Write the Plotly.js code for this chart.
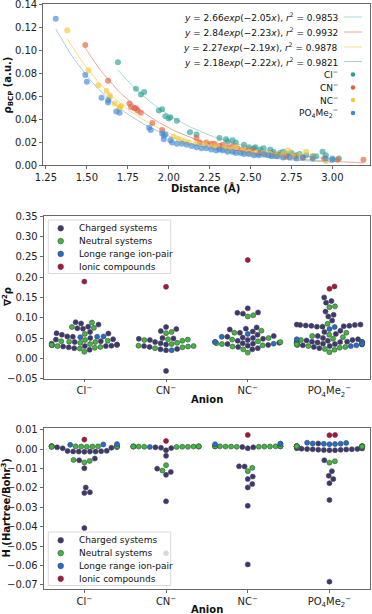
<!DOCTYPE html>
<html>
<head>
<meta charset="utf-8">
<script src="https://cdn.plot.ly/plotly-3.0.1.min.js"></script>
<style>
  html, body { margin: 0; padding: 0; background: #fff; }
  #chart { width: 372px; height: 614px; }
</style>
</head>
<body>
<div id="chart"></div>
<script>
// ---- panel 1: rho at the BCP vs distance ----
const distCl = [1.69,1.80,1.83,1.85,1.94,1.96,1.98,2.00,2.01,2.05,2.13,2.17,2.31,2.35,2.36,2.39,2.41,2.46,2.49,2.52,2.53,2.56,2.58,2.62,2.64,2.68,2.70,2.72,2.75,2.78,2.80,2.84,2.88,2.90,2.94,2.96,3.00,3.04];
const rhoCl  = [0.090,0.067,0.062,0.064,0.048,0.049,0.043,0.041,0.042,0.039,0.029,0.027,0.024,0.023,0.021,0.022,0.020,0.018,0.016,0.015,0.016,0.014,0.015,0.014,0.012,0.011,0.012,0.010,0.011,0.009,0.010,0.009,0.008,0.008,0.012,0.009,0.006,0.006];
const distCN = [1.49,1.63,1.76,1.77,1.79,1.80,1.81,1.83,1.90,1.96,2.17,2.19,2.23,2.26,2.28,2.31,2.33,2.36,2.39,2.42,2.45,2.48,2.51,2.55,2.59,2.63,2.67,2.72,2.77,2.82,2.88,2.95,3.03,3.19];
const rhoCN  = [0.105,0.074,0.054,0.051,0.050,0.050,0.048,0.046,0.037,0.031,0.024,0.020,0.020,0.019,0.019,0.017,0.018,0.016,0.017,0.015,0.014,0.013,0.013,0.011,0.010,0.010,0.009,0.008,0.008,0.007,0.007,0.006,0.005,0.005];
const distNC = [1.38,1.51,1.57,1.62,1.64,1.64,1.67,1.70,1.70,1.71,2.03,2.06,2.09,2.12,2.17,2.22,2.27,2.30,2.34,2.38,2.41,2.45,2.49,2.53,2.58,2.62,2.66,2.70,2.73,2.76,2.80,2.84,2.88,2.96];
const rhoNC  = [0.118,0.083,0.070,0.065,0.061,0.059,0.054,0.051,0.050,0.052,0.025,0.023,0.021,0.020,0.019,0.018,0.017,0.016,0.015,0.014,0.016,0.013,0.012,0.011,0.011,0.010,0.009,0.010,0.013,0.008,0.009,0.012,0.007,0.004];
const distPO = [1.31,1.49,1.50,1.59,1.63,1.63,1.68,1.70,1.88,1.89,1.96,1.97,1.97,1.98,2.01,2.02,2.05,2.08,2.11,2.14,2.17,2.20,2.23,2.26,2.29,2.31,2.33,2.36,2.39,2.41,2.44,2.46,2.49,2.52,2.55,2.58,2.61,2.63,2.66,2.70,2.74,2.78,2.82,2.88,2.96,3.00];
const rhoPO  = [0.128,0.079,0.073,0.059,0.057,0.055,0.047,0.046,0.033,0.031,0.028,0.026,0.023,0.027,0.022,0.020,0.019,0.019,0.018,0.017,0.016,0.015,0.015,0.014,0.013,0.014,0.013,0.012,0.012,0.011,0.011,0.010,0.010,0.009,0.009,0.010,0.009,0.008,0.008,0.007,0.007,0.006,0.007,0.006,0.006,0.005];

// fitted y = a*exp(b*x), as printed in the legend
const fitA = [2.66, 2.84, 2.27, 2.18];
const fitB = [-2.05, -2.23, -2.19, -2.22];
const fitR2 = ["0.9853", "0.9932", "0.9878", "0.9821"];

const anionNames = ["Cl<sup>−</sup>", "CN<sup>−</sup>", "NC<sup>−</sup>", "PO<sub>4</sub>Me<sub>2</sub><sup>−</sup>"];

// ---- panel 2: laplacian per anion, by system type (Cl, CN, NC, PO4Me2) ----
const lapCharged = [
  [0.089,0.086,0.083,0.078,0.074,0.073,0.065,0.062,0.061,0.058,0.054,0.053,0.050,0.047,0.046,0.042,0.040,0.036,0.034,0.033,0.032,0.031,0.030,0.030,0.029,0.027,0.025,0.021],
  [0.077,0.072,0.067,0.050,0.049,0.048,0.045,0.040,0.037,0.034,0.030,0.028,0.023,0.022,0.020,-0.031],
  [0.123,0.113,0.112,0.110,0.076,0.073,0.071,0.066,0.063,0.058,0.055,0.053,0.051,0.050,0.048,0.045,0.043,0.040,0.038,0.037,0.036,0.035,0.033,0.031,0.028,0.025,0.022],
  [0.150,0.141,0.137,0.115,0.107,0.103,0.093,0.083,0.083,0.082,0.082,0.081,0.080,0.080,0.079,0.078,0.078,0.068,0.065,0.060,0.055,0.050,0.047,0.045,0.044,0.043,0.042,0.041,0.041,0.040,0.040,0.039,0.038,0.037,0.036,0.035,0.034,0.033,0.032,0.030,0.028,0.025]
];
const lapNeutral = [
  [0.088,0.077,0.075,0.060,0.045,0.043,0.042,0.041,0.040,0.038,0.035,0.033,0.030,0.028,0.026,0.024,0.016],
  [0.065,0.062,0.047,0.046,0.045,0.043,0.038,0.035,0.031,0.030,0.029,0.027,0.025],
  [0.106,0.103,0.068,0.063,0.050,0.046,0.042,0.040,0.037,0.035,0.032,0.029,0.022,0.014],
  [0.128,0.126,0.085,0.063,0.058,0.055,0.052,0.048,0.045,0.040,0.036,0.034,0.030,0.028,0.026,0.023,0.021,0.015]
];
const lapLongRange = [
  [0.054,0.053,0.052],
  [0.020],
  [0.060,0.053,0.040,0.036],
  [0.077,0.072,0.047,0.040,0.035,0.032,0.030]
];
const lapIonic = [[0.189], [0.176], [0.242], [0.177,0.171]];

// ---- panel 3: energy density H per anion, by system type ----
const hCharged = [
  [0.0012,0.0010,0.0008,0.0005,-0.0008,-0.0010,-0.0012,-0.0012,-0.0013,-0.0012,-0.0011,-0.0009,-0.0048,-0.0057,-0.0098,-0.0198,-0.0222,-0.0226,-0.0407],
  [0.0010,0.0008,0.0006,-0.0005,-0.0034,-0.0100,-0.0117,-0.0132,-0.0269,-0.0537],
  [0.0012,0.0010,0.0005,-0.0088,-0.0089,-0.0141,-0.0154,-0.0180,-0.0197,-0.0292,-0.0595],
  [0.0030,0.0005,0.0004,0.0003,0.0002,0.0001,0.0000,0.0000,-0.0001,-0.0002,-0.0003,-0.0004,-0.0005,-0.0005,-0.0057,-0.0113,-0.0137,-0.0154,-0.0175,-0.0262,-0.0684]
];
const hNeutral = [
  [0.0016,0.0015,0.0014,0.0016,0.0015,0.0013,0.0014,0.0015,0.0016,0.0014,0.0015,0.0013,0.0012,0.0015,-0.0055,-0.0068,-0.0060],
  [0.0014,0.0015,0.0013,0.0014,0.0015,0.0014,0.0013,0.0014,0.0015,0.0013,0.0014,0.0012,-0.0082,-0.0110],
  [0.0016,0.0015,0.0014,0.0015,0.0016,0.0014,0.0015,0.0013,0.0015,0.0014,0.0016,0.0015,0.0013,0.0014,-0.0096,-0.0113],
  [0.0016,0.0015,0.0014,0.0016,0.0015,0.0013,0.0014,0.0015,0.0016,0.0014,0.0015,0.0013,0.0012,0.0015,0.0014,0.0016,-0.0062,-0.0069]
];
const hLongRange = [
  [0.0025,0.0027,0.0023],
  [0.0012],
  [0.0029,0.0026,0.0028],
  [0.0034,0.0030,0.0028,0.0026,0.0027,0.0029,0.0033]
];
const hIonic = [[0.0050], [0.0043], [0.0074], [0.0074,0.0073]];

const hueNames = ["Charged systems", "Neutral systems", "Longe range ion-pair", "Ionic compounds"];
const hueColors = ["#3c3878", "#3dba3d", "#1f6fd0", "#b0123a"];

const FONT = "DejaVu Sans, sans-serif";
const W = 372, H = 614;
const px = (x) => x / W;
const py = (y) => 1 - y / H;

// plot frames in page pixels
const f1 = { l: 43, r: 370, t: 3.5, b: 165.5 };
const f2 = { l: 43.5, r: 370.3, t: 216.2, b: 378.6 };
const f3 = { l: 43.5, r: 370.3, t: 427.6, b: 589 };
const range2 = [-0.05, 0.35];
const range3 = [-0.0722, 0.0112];

const axisBase = {
  showline: true, mirror: true, linecolor: "#444", linewidth: 0.8,
  ticks: "outside", ticklen: 3, tickwidth: 0.8, tickcolor: "#444",
  showgrid: false, zeroline: false, ticklabeloverflow: "allow",
  tickfont: { family: FONT, size: 10, color: "#222" }
};

// ---- scatter + fits ----
const scatterSets = [
  { x: distCl, y: rhoCl, name: "Cl", color: "#2e9f96", line: "#a9d8d4" },
  { x: distCN, y: rhoCN, name: "CN", color: "#e35f3c", line: "#f0a694" },
  { x: distNC, y: rhoNC, name: "NC", color: "#f5c73a", line: "#f8dd80" },
  { x: distPO, y: rhoPO, name: "PO4Me2", color: "#3f8ad8", line: "#abcbe6" }
];

const traces = [];
scatterSets.forEach((s, i) => {
  const lo = Math.min(...s.x), hi = Math.max(...s.x);
  const xs = [], ys = [];
  for (let k = 0; k <= 60; k++) {
    const x = lo + (hi - lo) * k / 60;
    xs.push(x);
    ys.push(fitA[i] * Math.exp(fitB[i] * x));
  }
  traces.push({
    x: xs, y: ys, xaxis: "x", yaxis: "y", type: "scatter", mode: "lines",
    line: { color: s.line, width: 1 }, showlegend: false, hoverinfo: "skip"
  });
});
scatterSets.forEach((s) => {
  traces.push({
    x: s.x, y: s.y, xaxis: "x", yaxis: "y", type: "scatter", mode: "markers",
    marker: { color: s.color, size: 6, opacity: 0.65 }, showlegend: false, name: s.name
  });
});

// ---- simple beeswarm, like seaborn: sort by value, place nearest to centre ----
function swarmOffsets(vals, pxPerUnit, diam) {
  const order = vals.map((v, i) => i).sort((a, b) => vals[a] - vals[b]);
  const placed = [];
  const off = new Array(vals.length);
  for (const i of order) {
    const y = vals[i] * pxPerUnit;
    const near = placed.filter((p) => Math.abs(p.y - y) < diam);
    const cands = [0];
    near.forEach((p) => {
      const dx = Math.sqrt(diam * diam - (p.y - y) ** 2);
      cands.push(p.x + dx, p.x - dx);
    });
    cands.sort((a, b) => Math.abs(a) - Math.abs(b));
    let x = cands[cands.length - 1];
    for (const c of cands) {
      if (near.every((p) => (p.x - c) ** 2 + (p.y - y) ** 2 >= diam * diam - 1e-6)) { x = c; break; }
    }
    placed.push({ x, y });
    off[i] = x;
  }
  return off;
}

function swarmTraces(groups, frame, yrange, xa, ya) {
  const pxPerCat = (frame.r - frame.l) / 4;
  const pxPerUnit = (frame.b - frame.t) / (yrange[1] - yrange[0]);
  const diam = 5.6, maxOff = 0.4 * pxPerCat;
  const out = hueNames.map((n, h) => ({
    x: [], y: [], xaxis: xa, yaxis: ya, type: "scatter", mode: "markers", name: n,
    marker: { color: hueColors[h], size: 5, line: { color: "#444", width: 0.6 } },
    showlegend: false
  }));
  for (let k = 0; k < 4; k++) {
    const vals = [], hue = [];
    groups.forEach((g, h) => g[k].forEach((v) => { vals.push(v); hue.push(h); }));
    const off = swarmOffsets(vals, pxPerUnit, diam);
    vals.forEach((v, i) => {
      const o = Math.max(-maxOff, Math.min(maxOff, off[i]));
      out[hue[i]].x.push(k + o / pxPerCat);
      out[hue[i]].y.push(v);
    });
  }
  return out;
}

traces.push(...swarmTraces([lapCharged, lapNeutral, lapLongRange, lapIonic], f2, range2, "x2", "y2"));
traces.push(...swarmTraces([hCharged, hNeutral, hLongRange, hIonic], f3, range3, "x3", "y3"));

// ---- annotations & legend drawings ----
const annotations = [];
const shapes = [];
function label(text, x, y, opts = {}) {
  annotations.push(Object.assign({
    text, x: px(x), y: py(y), xref: "paper", yref: "paper", showarrow: false,
    xanchor: "center", yanchor: "middle",
    font: { family: FONT, size: 10, color: "#111" }
  }, opts));
}
function dot(x, y, color, d, edge) {
  shapes.push({
    type: "circle", xref: "paper", yref: "paper", xsizemode: "pixel", ysizemode: "pixel",
    xanchor: px(x), yanchor: py(y), x0: -d / 2, x1: d / 2, y0: -d / 2, y1: d / 2,
    fillcolor: color, line: { color: edge || color, width: edge ? 0.6 : 0 }, layer: "above"
  });
}

// axis titles
label("<b>Distance (Å)</b>", 206, 188);
label("<b>ρ<sub>BCP</sub> (a.u.)</b>", 7.5, 85, { textangle: -90 });
label("<b>∇<sup>2</sup>ρ</b>", 7, 297, { textangle: -90 });
label("<b>Anion</b>", 207, 399);
label("<b>H (Hartree/Bohr<sup>3</sup>)</b>", 5.5, 508, { textangle: -90 });
label("<b>Anion</b>", 207, 609);

// panel 1 legend: text on the left, symbol on the right
const legFont = { family: FONT, size: 9, color: "#111" };
const rows1 = [17, 32, 47, 61.5, 74.5, 87.5, 100, 113];
scatterSets.forEach((s, i) => {
  label(`<i>y</i> = ${fitA[i].toFixed(2)}<i>exp</i>(−${(-fitB[i]).toFixed(2)}<i>x</i>), <i>r</i><sup>2</sup> = ${fitR2[i]}`,
    340, rows1[i], { xanchor: "right", font: legFont });
  shapes.push({
    type: "line", xref: "paper", yref: "paper", x0: px(344), x1: px(362), y0: py(rows1[i]), y1: py(rows1[i]),
    line: { color: s.line, width: 1 }
  });
  label(anionNames[i], 340, rows1[4 + i], { xanchor: "right", font: legFont });
  dot(353, rows1[4 + i], s.color, 4.5);
});

// boxed legends for the swarm panels
function boxLegend(top) {
  shapes.push({
    type: "rect", xref: "paper", yref: "paper", x0: px(48.3), x1: px(170.7), y0: py(top), y1: py(top + 53.5),
    fillcolor: "rgba(255,255,255,0.8)", line: { color: "#d0d0d0", width: 0.8 }, layer: "above"
  });
  hueNames.forEach((n, h) => {
    const y = top + 8.3 + h * 12.8;
    dot(60.7, y, hueColors[h], 5.6, "#444");
    label(n, 76.5, y, { xanchor: "left", font: legFont });
  });
}
boxLegend(220);
boxLegend(532);

const catTicks = { tickmode: "array", tickvals: [0, 1, 2, 3], ticktext: anionNames };

const layout = {
  width: W, height: H,
  margin: { l: 0, r: 0, t: 0, b: 0 },
  paper_bgcolor: "#fff", plot_bgcolor: "#fff",
  font: { family: FONT, color: "#222" },
  showlegend: false,
  xaxis: Object.assign({}, axisBase, {
    domain: [px(f1.l), px(f1.r)], range: [1.232, 3.23], tick0: 1.25, dtick: 0.25, tickformat: ".2f", anchor: "y"
  }),
  yaxis: Object.assign({}, axisBase, {
    domain: [py(f1.b), py(f1.t)], range: [0, 0.1413], dtick: 0.02, tickformat: ".2f", anchor: "x"
  }),
  xaxis2: Object.assign({}, axisBase, catTicks, {
    domain: [px(f2.l), px(f2.r)], range: [-0.5, 3.5], anchor: "y2"
  }),
  yaxis2: Object.assign({}, axisBase, {
    domain: [py(f2.b), py(f2.t)], range: range2, dtick: 0.05, tickformat: ".2f", anchor: "x2"
  }),
  xaxis3: Object.assign({}, axisBase, catTicks, {
    domain: [px(f3.l), px(f3.r)], range: [-0.5, 3.5], anchor: "y3"
  }),
  yaxis3: Object.assign({}, axisBase, {
    domain: [py(f3.b), py(f3.t)], range: range3, dtick: 0.01, tickformat: ".2f", anchor: "x3"
  }),
  annotations, shapes
};

Plotly.newPlot("chart", traces, layout, { staticPlot: true, displayModeBar: false });
</script>
</body>
</html>
